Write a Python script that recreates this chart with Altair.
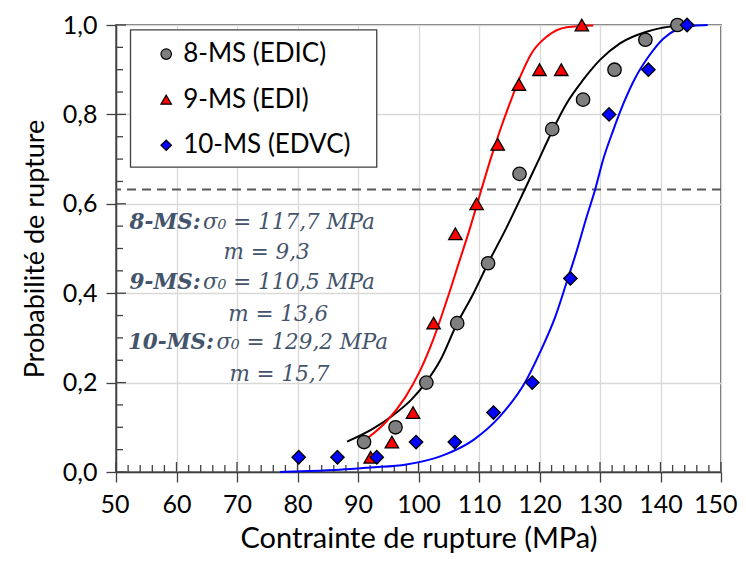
import altair as alt
import pandas as pd

# ---------------- data ----------------
series_names = ["8-MS (EDIC)", "9-MS (EDI)", "10-MS (EDVC)"]
point_fill = ["#7f7f7f", "#ff0000", "#0000ff"]
point_shape = ["circle", "triangle-up", "diamond"]
line_color = ["#000000", "#ff0000", "#0000ff"]

ms8_x = [91.0, 96.2, 101.3, 106.4, 111.5, 116.7, 122.1, 127.2, 132.4, 137.5, 142.8]
ms8_y = [0.067, 0.100, 0.200, 0.333, 0.467, 0.667, 0.767, 0.833, 0.900, 0.967, 1.000]

ms9_x = [92.1, 95.6, 99.1, 102.5, 106.1, 109.6, 113.1, 116.6, 120.0, 123.6, 127.0]
ms9_y = [0.033, 0.067, 0.133, 0.333, 0.533, 0.600, 0.733, 0.867, 0.900, 0.900, 1.000]

ms10_x = [80.2, 86.6, 93.1, 99.6, 106.0, 112.4, 118.8, 125.1, 131.5, 138.0, 144.4]
ms10_y = [0.033, 0.033, 0.033, 0.067, 0.067, 0.133, 0.200, 0.433, 0.800, 0.900, 1.000]

# fitted curves
fit8_x = [88.2, 92.5, 95.8, 98.9, 101.2, 103.6, 106.3, 109.1, 111.5, 114.3, 117.6,
          120.1, 122.0, 124.5, 127.2, 130.0, 133.3, 137.7, 140.0, 143.0]
fit8_y = [0.068, 0.097, 0.127, 0.163, 0.200, 0.250, 0.330, 0.400, 0.467, 0.540, 0.633,
          0.705, 0.760, 0.825, 0.877, 0.922, 0.959, 0.985, 0.993, 0.999]

fit9_x = [91.7, 94.7, 97.8, 100.2, 102.4, 104.7, 106.6, 108.5, 110.4, 111.8, 113.5,
          115.1, 116.8, 118.7, 121.2, 124.5, 128.9]
fit9_y = [0.077, 0.113, 0.167, 0.225, 0.295, 0.385, 0.465, 0.545, 0.632, 0.695, 0.765,
          0.825, 0.884, 0.937, 0.974, 0.995, 0.999]

fit10_x = [77.1, 82.0, 87.0, 92.0, 98.0, 103.6, 109.1, 113.5, 117.6, 120.1, 122.6,
           124.5, 126.0, 127.8, 129.2, 130.5, 132.2, 133.9, 135.8, 138.0, 140.5,
           142.7, 145.4, 147.8]
fit10_y = [0.000, 0.002, 0.005, 0.010, 0.017, 0.035, 0.072, 0.125, 0.200, 0.268, 0.347,
           0.425, 0.488, 0.571, 0.632, 0.698, 0.765, 0.825, 0.881, 0.929, 0.970,
           0.990, 0.998, 1.000]

threshold = [0.632]

# annotation text (placed in data units)
ann_label = ["8-MS:", "9-MS:", "10-MS:"]
ann_label_x = [64.0, 64.0, 66.2]
ann_eq = ["σ₀ = 117,7 MPa", "σ₀ = 110,5 MPa", "σ₀ = 129,2 MPa"]
ann_eq_x = [64.4, 64.4, 66.6]
ann_y = [0.557, 0.423, 0.289]
ann_m = ["m = 9,3", "m = 13,6", "m = 15,7"]
ann_m_x = [74.9, 76.8, 77.0]
ann_m_y = [0.490, 0.351, 0.217]

# legend placement (data units)
legend_box_x = [52.4, 93.1]
legend_box_y = [0.989, 0.682]
legend_sym_x = 58.3
legend_txt_x = 61.1
legend_row_y = [0.935, 0.833, 0.731]

x_major = list(range(50, 151, 10))
x_minor = [v for v in range(52, 150, 2) if v % 10 != 0]
y_major = [0.0, 0.2, 0.4, 0.6, 0.8, 1.0]
y_minor = [0.05, 0.1, 0.15, 0.25, 0.3, 0.35, 0.45, 0.5, 0.55, 0.65, 0.7, 0.75, 0.85, 0.9, 0.95]

# ---------------- tables ----------------
pts = pd.concat([
    pd.DataFrame({"series": series_names[0], "x": ms8_x, "y": ms8_y}),
    pd.DataFrame({"series": series_names[1], "x": ms9_x, "y": ms9_y}),
    pd.DataFrame({"series": series_names[2], "x": ms10_x, "y": ms10_y}),
])
fit_tables = [
    pd.DataFrame({"x": fit8_x, "y": fit8_y}),
    pd.DataFrame({"x": fit9_x, "y": fit9_y}),
    pd.DataFrame({"x": fit10_x, "y": fit10_y}),
]
lab_df = pd.DataFrame({"x": ann_label_x, "y": ann_y, "t": ann_label})
eq_df = pd.DataFrame({"x": ann_eq_x, "y": ann_y, "t": ann_eq})
m_df = pd.DataFrame({"x": ann_m_x, "y": ann_m_y, "t": ann_m})
box_df = pd.DataFrame({"x": [legend_box_x[0]], "x2": [legend_box_x[1]],
                       "y": [legend_box_y[0]], "y2": [legend_box_y[1]]})
leg_df = pd.DataFrame({"series": series_names, "x": [legend_sym_x] * 3,
                       "xt": [legend_txt_x] * 3, "y": legend_row_y})

AX = "#404040"
FONT = "Lato"
TXT = "#44546A"

xscale = alt.Scale(domain=[50, 150], nice=False, zero=False)
yscale = alt.Scale(domain=[0, 1], nice=False, zero=False)
fill_scale = alt.Scale(domain=series_names, range=point_fill)
shape_scale = alt.Scale(domain=series_names, range=point_shape)

x_enc = alt.X("x:Q", scale=xscale, title="Contrainte de rupture (MPa)",
              axis=alt.Axis(values=x_major, format="d", grid=True, gridColor="#d9d9d9",
                            gridWidth=1.3, tickSize=10, tickColor=AX, tickWidth=1.3,
                            domainColor=AX, domainWidth=1.5, labelFont=FONT,
                            labelFontSize=25, labelColor="black", labelPadding=10,
                            labelOverlap=False, labelFlush=True, labelFlushOffset=16,
                            titleFont=FONT, titleFontSize=29, titleFontWeight="normal",
                            titleColor="black", titlePadding=7))
y_enc = alt.Y("y:Q", scale=yscale, title="Probabilité de rupture",
              axis=alt.Axis(values=y_major,
                            labelExpr="replace(format(datum.value, '.1f'), '.', ',')",
                            grid=True, gridColor="#d9d9d9", gridWidth=1.3, tickSize=10,
                            tickColor=AX, tickWidth=1.3, domainColor=AX, domainWidth=1.5,
                            labelFont=FONT, labelFontSize=25, labelColor="black",
                            labelPadding=9, labelOverlap=False, labelFlush=False,
                            titleFont=FONT, titleFontSize=27, titleFontWeight="normal",
                            titleColor="black", titlePadding=13))

points = alt.Chart(pts).mark_point(filled=True, size=180, stroke="black",
                                   strokeWidth=1.3, opacity=1).encode(
    x=x_enc, y=y_enc,
    fill=alt.Fill("series:N", scale=fill_scale, legend=None),
    shape=alt.Shape("series:N", scale=shape_scale, legend=None),
)

curves = [
    alt.Chart(tbl).mark_line(strokeWidth=2, interpolate="monotone", color=col).encode(
        x="x:Q", y="y:Q")
    for tbl, col in zip(fit_tables, line_color)
]

dash = alt.Chart(pd.DataFrame({"y": threshold})).mark_rule(
    color="#595959", strokeWidth=2, strokeDash=[9, 6]).encode(y="y:Q")

xt_major = alt.Chart(pd.DataFrame({"x": x_major})).mark_tick(
    orient="vertical", size=10, thickness=1.3, color=AX, yOffset=-5, opacity=1
).encode(x="x:Q", y=alt.datum(0))
xt_minor = alt.Chart(pd.DataFrame({"x": x_minor})).mark_tick(
    orient="vertical", size=7, thickness=1.3, color=AX, yOffset=-3.5, opacity=1
).encode(x="x:Q", y=alt.datum(0))
yt_major = alt.Chart(pd.DataFrame({"y": y_major})).mark_tick(
    orient="horizontal", size=10, thickness=1.3, color=AX, xOffset=5, opacity=1
).encode(y="y:Q", x=alt.datum(50))
yt_minor = alt.Chart(pd.DataFrame({"y": y_minor})).mark_tick(
    orient="horizontal", size=7, thickness=1.3, color=AX, xOffset=3.5, opacity=1
).encode(y="y:Q", x=alt.datum(50))

lab = alt.Chart(lab_df).mark_text(font="DejaVu Serif", fontSize=21.5, fontWeight="bold",
                                  fontStyle="italic", color=TXT, align="right",
                                  baseline="middle").encode(x="x:Q", y="y:Q", text="t:N")
eq = alt.Chart(eq_df).mark_text(font="DejaVu Serif", fontSize=21.5, fontStyle="italic",
                                color=TXT, align="left", baseline="middle").encode(
    x="x:Q", y="y:Q", text="t:N")
mm = alt.Chart(m_df).mark_text(font="DejaVu Serif", fontSize=21.5, fontStyle="italic",
                               color=TXT, align="center", baseline="middle").encode(
    x="x:Q", y="y:Q", text="t:N")

# legend drawn with the chart's own scales
leg_box = alt.Chart(box_df).mark_rect(fill="white", stroke=AX, strokeWidth=1.3).encode(
    x="x:Q", x2="x2", y="y:Q", y2="y2")
leg_sym = alt.Chart(leg_df).mark_point(filled=True, size=110, stroke="black",
                                       strokeWidth=1.2, opacity=1).encode(
    x="x:Q", y="y:Q",
    fill=alt.Fill("series:N", scale=fill_scale, legend=None),
    shape=alt.Shape("series:N", scale=shape_scale, legend=None),
)
leg_txt = alt.Chart(leg_df).mark_text(font=FONT, fontSize=26, color="black", align="left",
                                      baseline="middle").encode(
    x="xt:Q", y="y:Q", text="series:N")

chart = alt.layer(
    points, xt_major, xt_minor, yt_major, yt_minor, dash, *curves, lab, eq, mm,
    leg_box, leg_sym, leg_txt
).properties(
    width=605, height=447,
    autosize=alt.AutoSizeParams(type="none"),
    padding={"left": 108, "top": 17, "right": 17, "bottom": 82},
).configure_view(stroke=AX, strokeWidth=1.5)

# draw the points above the curves
chart.layer = [xt_major, xt_minor, yt_major, yt_minor, dash, *curves, points, lab, eq, mm,
               leg_box, leg_sym, leg_txt]

chart.save("out.html", embed_options={"renderer": "svg", "actions": False})
